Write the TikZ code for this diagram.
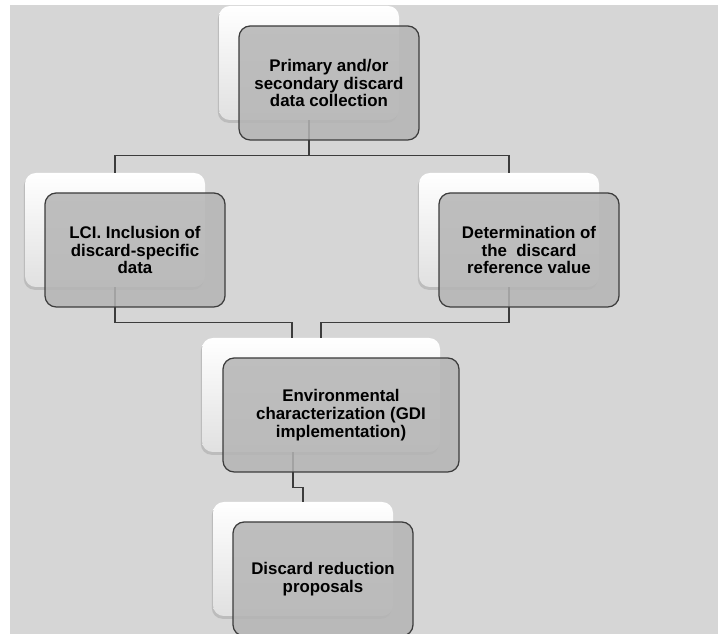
\documentclass[tikz,border=0pt]{standalone}
\usepackage{fontspec}
\setmainfont{Liberation Sans}
\usetikzlibrary{shadows}
\definecolor{panelgray}{HTML}{D6D6D6}
\definecolor{cardgray}{HTML}{B4B4B4}
\definecolor{wiregray}{HTML}{3C3C3C}
\begin{document}
\begin{tikzpicture}[
	backcard/.style={shape=rectangle, rounded corners=0.27cm, top color=white, bottom color=gray!24, drop shadow={shadow xshift=-0.03cm, shadow yshift=-0.07cm, opacity=0.3}, minimum width=4.5cm, minimum height=2.85cm},
	frontcard/.style={shape=rectangle, rounded corners=0.28cm, draw=wiregray, line width=0.9pt, fill=cardgray, fill opacity=0.85, text opacity=1, align=center, font=\bfseries\fontsize{12}{12.6}\selectfont, minimum width=4.5cm, minimum height=2.85cm},
	wire/.style={draw=wiregray, line width=0.95pt}
]
	\useasboundingbox (0,0) rectangle (17.95,15.85);
	\fill[panelgray] (0.25,0) rectangle (17.95,15.725);
	% Back cards:
	\node[backcard] (collectB) at (7.725, 14.275){};
	\node[backcard] (lciB) at (2.875, 10.1){};
	\node[backcard] (refB) at (12.725, 10.1){};
	\node[backcard, minimum width=5.95cm] (envB) at (8.025, 5.975){};
	\node[backcard] (redB) at (7.575, 1.875){};
	\coordinate (split) at (7.725, 11.96);
	\coordinate (envin) at ([xshift=-0.725cm]envB.north);
	\coordinate (envout) at ([xshift=-0.7cm]envB.south);
	% Paths, nodes and wires:
	\draw[wire] (collectB.south) -- (split) -| (lciB.north);
	\draw[wire] (split) -| (refB.north);
	\draw[wire] (lciB.south) -- ++(0,-0.875) -| (envin);
	\draw[wire] (refB.south) -- ++(0,-0.875) -| (envB.north);
	\draw[wire] (envout) -- ++(0,-0.875) -| (redB.north);
	% Front cards:
	\node[frontcard] (collect) at ([shift={(0.5,-0.5)}]collectB.center){Primary and/or\\secondary discard\\data collection};
	\node[frontcard] (lci) at ([shift={(0.5,-0.5)}]lciB.center){LCI. Inclusion of\\discard-specific\\data};
	\node[frontcard] (ref) at ([shift={(0.5,-0.5)}]refB.center){Determination of\\the~ discard\\reference value};
	\node[frontcard, minimum width=5.9cm] (env) at ([shift={(0.5,-0.5)}]envB.center){Environmental\\characterization (GDI\\implementation)};
	\node[frontcard] (red) at ([shift={(0.5,-0.5)}]redB.center){Discard reduction\\proposals};
\end{tikzpicture}
\end{document}
